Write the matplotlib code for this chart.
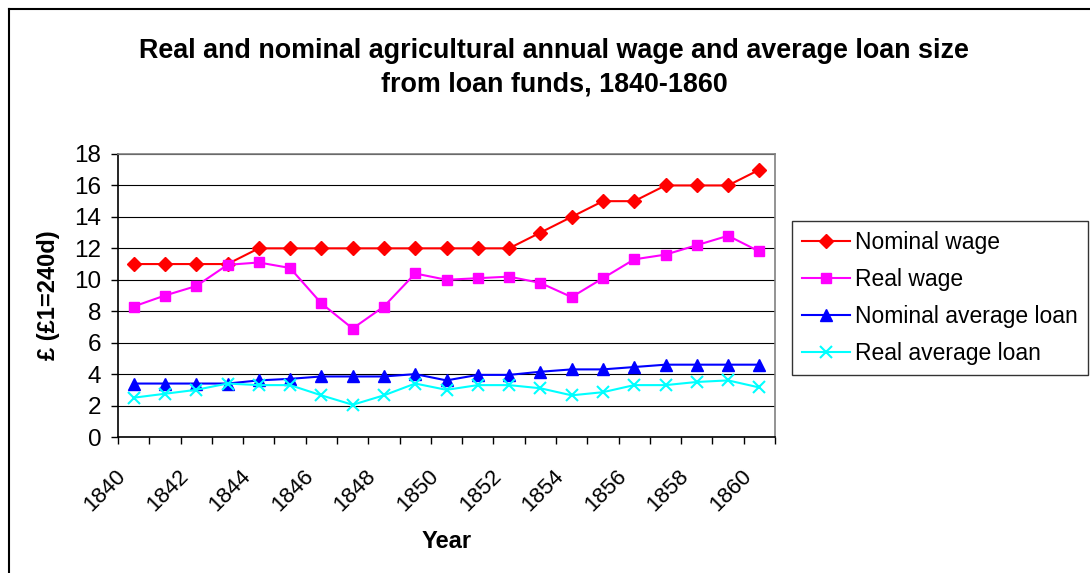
import matplotlib
matplotlib.use("Agg")
import matplotlib.pyplot as plt
from matplotlib.lines import Line2D
from matplotlib.transforms import ScaledTranslation

plt.rcParams['font.family'] = ['Liberation Sans', 'DejaVu Sans']

# Data
years = list(range(1840, 1861))
nominal_wage = [11, 11, 11, 11, 12, 12, 12, 12, 12, 12, 12,
                12, 12, 13, 14, 15, 15, 16, 16, 16, 17]
real_wage = [8.3, 9.0, 9.6, 10.95, 11.1, 10.75, 8.5, 6.9, 8.3, 10.4, 10.0,
             10.1, 10.2, 9.8, 8.9, 10.1, 11.3, 11.6, 12.2, 12.8, 11.8]
nominal_loan = [3.4, 3.4, 3.4, 3.4, 3.6, 3.7, 3.85, 3.85, 3.85, 4.0, 3.6,
                3.95, 3.95, 4.15, 4.3, 4.3, 4.45, 4.6, 4.6, 4.6, 4.6]
real_loan = [2.5, 2.75, 3.0, 3.4, 3.3, 3.3, 2.65, 2.05, 2.65, 3.4, 3.0,
             3.3, 3.3, 3.1, 2.65, 2.85, 3.3, 3.3, 3.5, 3.6, 3.15]

fig = plt.figure(figsize=(10.9, 5.73), dpi=100)
ax = fig.add_axes([118 / 1090, 1 - 437 / 573, 657 / 1090, 283 / 573])

x = list(range(len(years)))
ax.plot(x, nominal_wage, color='#FF0000', lw=1.5, marker='D', ms=7,
        label='Nominal wage')
ax.plot(x, real_wage, color='#FF00FF', lw=1.5, marker='s', ms=7.5,
        label='Real wage')
ax.plot(x, nominal_loan, color='#0000FF', lw=1.5, marker='^', ms=8,
        label='Nominal average loan')
ax.plot(x, real_loan, color='#00FFFF', lw=1.5, marker='x', ms=8, mew=1.5,
        label='Real average loan')

ax.set_xlim(-0.5, len(years) - 0.5)
ax.set_ylim(0, 18)
ax.set_yticks(range(0, 19, 2))
ax.yaxis.grid(True, color='#000000', lw=0.8)
ax.set_axisbelow(True)

ax.set_xticks(x[::2])
ax.set_xticklabels([str(y) for y in years[::2]], rotation=45, ha='right',
                   va='center', rotation_mode='anchor')
ax.set_xticks([i - 0.5 for i in range(len(years) + 1)], minor=True)
ax.tick_params(axis='x', which='major', length=0, pad=26, labelsize=16)
ax.tick_params(axis='x', which='minor', length=5, direction='out', width=1)
ax.tick_params(axis='y', length=5, direction='out', width=1, pad=7,
               labelsize=17.5)
shift = ScaledTranslation(-11 / 100, 0, fig.dpi_scale_trans)
for lbl in ax.get_xticklabels():
    lbl.set_transform(lbl.get_transform() + shift)

for side in ('top', 'right'):
    ax.spines[side].set_color('#808080')
for side in ('left', 'bottom'):
    ax.spines[side].set_color('#000000')
for sp in ax.spines.values():
    sp.set_linewidth(1.2)

ax.set_ylabel('£ (£1=240d)', fontsize=17, fontweight='bold', labelpad=10)
fig.text(447 / 1090, 1 - 541 / 573, 'Year', fontsize=17, fontweight='bold',
         ha='center', va='center')
fig.text(554 / 1090, 1 - 67.5 / 573,
         'Real and nominal agricultural annual wage and average loan size\n'
         'from loan funds, 1840-1860',
         fontsize=19.4, fontweight='bold', ha='center', va='center',
         linespacing=1.4)

leg = ax.legend(loc='upper left', bbox_to_anchor=(792 / 1090, 1 - 221 / 573),
                bbox_transform=fig.transFigure, fontsize=16.5, frameon=True,
                fancybox=False, borderpad=0.45, labelspacing=0.6,
                handlelength=2.1, handletextpad=0.2, borderaxespad=0)
leg.get_frame().set_edgecolor('#000000')
leg.get_frame().set_linewidth(1.0)

# outer chart border (runs off the right and bottom edges)
fig.add_artist(Line2D([9 / 1090, 9 / 1090], [0, 1 - 9 / 573],
                      transform=fig.transFigure, color='black', lw=1.5))
fig.add_artist(Line2D([9 / 1090, 1], [1 - 9 / 573, 1 - 9 / 573],
                      transform=fig.transFigure, color='black', lw=1.5))

fig.savefig('out.png', dpi=100)
